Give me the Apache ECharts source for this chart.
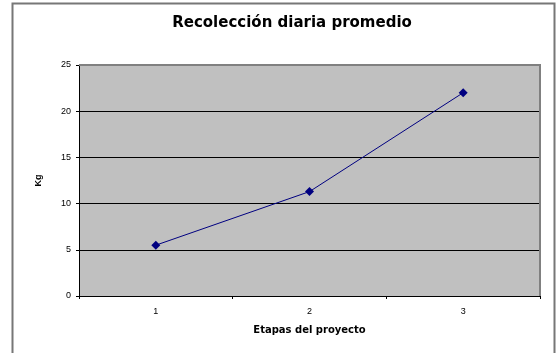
<!DOCTYPE html>
<html><head><meta charset="utf-8">
<script src="https://cdn.jsdelivr.net/npm/echarts@6/dist/echarts.min.js"></script>
<style>html,body{margin:0;padding:0;background:#fff}#c{width:556px;height:353px}</style>
</head><body><div id="c"></div>
<script>
const categories = ['1', '2', '3'];
const values = [5.5, 11.3, 22];
const titleText = 'Recolección diaria promedio';
const xName = 'Etapas del proyecto';
const yName = 'Kg';

const chart = echarts.init(document.getElementById('c'), null, {renderer: 'canvas'});
chart.setOption({
  animation: false,
  backgroundColor: '#fff',
  title: {
    text: titleText, left: 287, top: 11, textAlign: 'center',
    textStyle: {fontFamily: 'DejaVu Sans', fontWeight: 'bold', fontSize: 15, color: '#000'}
  },
  graphic: [
    {type: 'polyline', shape: {points: [[12.5, 360], [12.5, 3.5], [554.5, 3.5], [554.5, 360]]},
     style: {stroke: '#777', lineWidth: 2, fill: null}, silent: true},
    {type: 'polyline', shape: {points: [[79, 65], [540, 65], [540, 296]]},
     style: {stroke: '#808080', lineWidth: 2, fill: null}, silent: true, z: 1}
  ],
  grid: {left: 79, right: 16, top: 65, bottom: 57, show: true, backgroundColor: '#c0c0c0', borderWidth: 0},
  xAxis: {
    type: 'category', data: categories, boundaryGap: true,
    name: xName, nameLocation: 'middle', nameGap: 29,
    nameTextStyle: {fontFamily: 'DejaVu Sans', fontWeight: 'bold', fontSize: 10, color: '#000'},
    axisLine: {lineStyle: {color: '#000', width: 1}},
    axisTick: {show: true, length: 3, lineStyle: {color: '#000'}},
    axisLabel: {fontFamily: 'Arial', fontSize: 9, color: '#000', margin: 11}
  },
  yAxis: {
    type: 'value', min: 0, max: 25, interval: 5,
    name: yName, nameLocation: 'middle', nameGap: 36, nameRotate: 90,
    nameTextStyle: {fontFamily: 'Arial', fontWeight: 'bold', fontSize: 9, color: '#000'},
    axisLine: {show: true, lineStyle: {color: '#000', width: 1}},
    axisTick: {show: true, length: 3, lineStyle: {color: '#000'}},
    axisLabel: {fontFamily: 'Arial', fontSize: 9, color: '#000', margin: 8},
    splitLine: {show: true, lineStyle: {color: '#000', width: 1}}
  },
  series: [{
    type: 'line', data: values,
    symbol: 'diamond', symbolSize: 9,
    lineStyle: {color: '#000080', width: 1},
    itemStyle: {color: '#000080'}
  }]
});
</script></body></html>
